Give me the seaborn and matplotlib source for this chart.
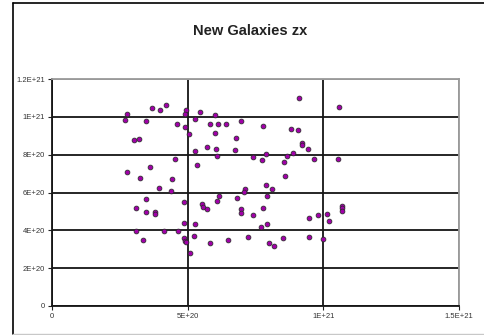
import numpy as np
import pandas as pd
import matplotlib
matplotlib.use("Agg")
import matplotlib.pyplot as plt
from matplotlib.lines import Line2D
import seaborn as sns

title = "New Galaxies zx"

# values in units of 1E20
x_e20 = [2.75, 2.69, 3.67, 3.98, 4.20, 4.94, 4.90, 5.46, 3.47, 4.62,
         4.90, 5.05, 5.27, 5.81, 6.10, 6.41, 6.96, 6.01, 6.00, 7.79,
         8.79, 9.07, 9.11, 10.59, 3.02, 3.21, 5.27, 5.72, 6.05, 6.78,
         6.73, 6.09, 4.53, 5.36, 9.20, 9.20, 9.44, 7.42, 7.74, 7.88,
         8.67, 8.88, 8.56, 9.67, 10.54, 3.63, 2.78, 3.24, 4.43, 8.57,
         3.93, 4.39, 7.88, 8.11, 7.10, 7.06, 6.14, 6.83, 7.93, 3.47,
         4.85, 5.53, 5.58, 5.73, 6.09, 3.10, 3.47, 3.79, 3.80, 6.95,
         6.96, 7.42, 7.79, 4.85, 5.26, 7.69, 7.92, 9.47, 9.79, 10.13,
         10.21, 10.67, 10.70, 10.67, 3.10, 4.12, 4.66, 3.34, 4.88, 4.92,
         4.95, 5.22, 5.81, 6.50, 7.24, 8.01, 8.19, 8.52, 9.47, 10.00,
         5.09]
y_e20 = [10.16, 9.83, 10.47, 10.38, 10.62, 10.36, 10.15, 10.24, 9.76, 9.62,
         9.46, 9.09, 9.90, 9.60, 9.62, 9.62, 9.76, 10.10, 9.17, 9.54,
         9.38, 9.30, 10.99, 10.54, 8.77, 8.84, 8.18, 8.39, 8.31, 8.86,
         8.25, 7.91, 7.77, 7.47, 8.63, 8.49, 8.31, 7.86, 7.72, 8.01,
         7.94, 8.11, 7.61, 7.77, 7.77, 7.33, 7.10, 6.79, 6.71, 6.86,
         6.26, 6.09, 6.41, 6.18, 6.21, 6.03, 5.79, 5.72, 5.79, 5.66,
         5.50, 5.40, 5.22, 5.11, 5.55, 5.18, 4.95, 4.95, 4.86, 5.11,
         4.93, 4.80, 5.19, 4.41, 4.33, 4.19, 4.33, 4.64, 4.79, 4.86,
         4.48, 5.30, 5.16, 5.04, 3.95, 3.95, 3.95, 3.49, 3.58, 3.45,
         3.37, 3.72, 3.35, 3.49, 3.64, 3.35, 3.19, 3.57, 3.64, 3.56,
         2.82]

x_ticks = [0, 5e20, 1e21, 1.5e21]
x_tick_labels = ["0", "5E+20", "1E+21", "1.5E+21"]
y_ticks = [0, 2e20, 4e20, 6e20, 8e20, 1e21, 1.2e21]
y_tick_labels = ["0", "2E+20", "4E+20", "6E+20", "8E+20", "1E+21", "1.2E+21"]

df = pd.DataFrame({"x": np.array(x_e20) * 1e20, "y": np.array(y_e20) * 1e20})

sns.set_style("white")
plt.rcParams["font.family"] = ["Liberation Sans", "DejaVu Sans"]

fig = plt.figure(figsize=(4.84, 3.35), dpi=100)
ax = fig.add_axes([52 / 484, 29 / 335, 407 / 484, 227 / 335])

sns.scatterplot(data=df, x="x", y="y", ax=ax, color="#a000a8",
                edgecolor="#2a2a2a", linewidth=0.55, s=12, zorder=3, legend=False)

ax.set_xlim(0, 1.5e21)
ax.set_ylim(0, 1.2e21)
ax.set_xticks(x_ticks)
ax.set_xticklabels(x_tick_labels)
ax.set_yticks(y_ticks)
ax.set_yticklabels(y_tick_labels)
ax.set_xlabel("")
ax.set_ylabel("")

ax.grid(True, color="#151515", linewidth=1.3)
ax.set_axisbelow(True)
for gl in ax.get_ygridlines()[-1:]:
    gl.set_color("#9a9a9a")
for gl in ax.get_xgridlines()[-1:]:
    gl.set_color("#9a9a9a")

for side in ["top", "right"]:
    ax.spines[side].set_color("#9a9a9a")
    ax.spines[side].set_linewidth(1.3)
for side in ["left", "bottom"]:
    ax.spines[side].set_color("#151515")
    ax.spines[side].set_linewidth(1.3)

ax.tick_params(axis="both", which="major", direction="out", length=3,
               width=0.8, color="#222222", labelsize=5.5, labelcolor="#333333",
               left=True, bottom=True, pad=2)

fig.text(250 / 484, 1 - 31 / 335, title, ha="center", va="center",
         fontsize=10.5, fontweight="bold", color="#222222")

# outer chart frame
fig.add_artist(Line2D([12.5 / 484, 12.5 / 484], [1.5 / 335, 1 - 2.5 / 335],
                      color="black", linewidth=1.2))
fig.add_artist(Line2D([12.5 / 484, 1.0], [1 - 2.5 / 335, 1 - 2.5 / 335],
                      color="black", linewidth=1.2))
fig.add_artist(Line2D([12.5 / 484, 1.0], [1.5 / 335, 1.5 / 335],
                      color="#c8c8c8", linewidth=1.0))

fig.savefig("out.png", dpi=100)
